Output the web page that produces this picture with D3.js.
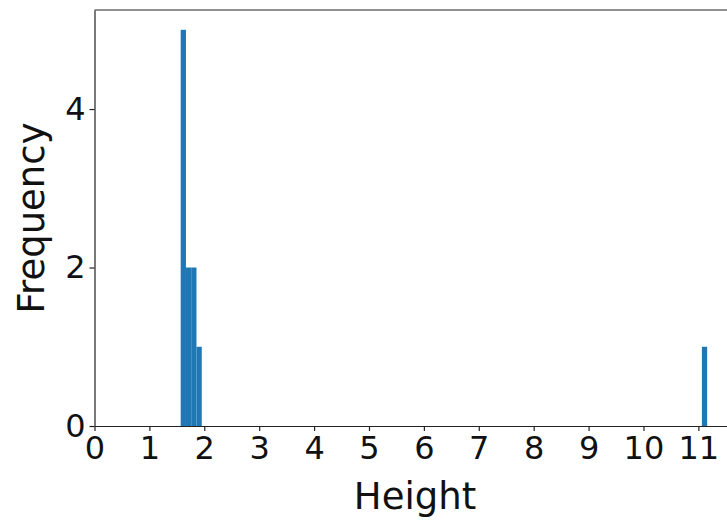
<!DOCTYPE html>
<html>
<head>
<meta charset="utf-8">
<script src="https://cdn.jsdelivr.net/npm/d3@7"></script>
<style>
  body { margin: 0; background: #fff; }
  svg { display: block; font-family: "DejaVu Sans", sans-serif; }
</style>
</head>
<body>
<div id="chart"></div>
<script>
/* DATA */
const heights = [1.57, 1.6, 1.6, 1.62, 1.65, 1.7, 1.72, 1.8, 1.82, 1.9, 11.16];
const binCount = 100;
const xTicks = [0, 1, 2, 3, 4, 5, 6, 7, 8, 9, 10, 11];
const yTicks = [0, 2, 4];
const xLabel = "Height";
const yLabel = "Frequency";

/* CONSTANTS */
const width = 727, height = 521;
const margin = { top: 10, left: 94.5, bottom: 95 };
const plotW = 639; // runs past the right edge, like the source

const svg = d3.select("#chart").append("svg")
  .attr("width", width)
  .attr("height", height);

const [lo, hi] = d3.extent(heights);
const step = (hi - lo) / binCount;
const bins = d3.bin()
  .domain([lo, hi])
  .thresholds(d3.range(1, binCount).map(i => lo + i * step))(heights);

const x = d3.scaleLinear()
  .domain([0, 11.64])
  .range([margin.left, margin.left + plotW]);

const y = d3.scaleLinear()
  .domain([0, 5.25])
  .range([height - margin.bottom, margin.top]);

// bars
svg.selectAll("rect.bar")
  .data(bins.filter(b => b.length > 0))
  .join("rect")
  .attr("class", "bar")
  .attr("x", d => x(d.x0))
  .attr("width", d => x(d.x1) - x(d.x0))
  .attr("y", d => y(d.length))
  .attr("height", d => y(0) - y(d.length))
  .attr("fill", "#1f77b4");

// axes
const xAxis = svg.append("g")
  .attr("transform", `translate(0,${y(0)})`)
  .call(d3.axisBottom(x).tickValues(xTicks).tickFormat(d3.format("d"))
    .tickSize(5).tickPadding(5).tickSizeOuter(0));

const yAxis = svg.append("g")
  .attr("transform", `translate(${x(0)},0)`)
  .call(d3.axisLeft(y).tickValues(yTicks).tickFormat(d3.format("d"))
    .tickSize(5).tickPadding(4).tickSizeOuter(0));

[xAxis, yAxis].forEach(g => {
  g.select(".domain").attr("stroke", "#222").attr("stroke-width", 1.2);
  g.selectAll(".tick line").attr("stroke", "#222").attr("stroke-width", 1.2);
  g.selectAll(".tick text")
    .attr("fill", "#111")
    .style("font-size", "32px")
    .style("font-family", "DejaVu Sans, sans-serif");
});

// top spine
svg.append("line")
  .attr("x1", x(0)).attr("x2", x(11.64))
  .attr("y1", y(5.25)).attr("y2", y(5.25))
  .attr("stroke", "#222").attr("stroke-width", 1.2);

// axis labels
svg.append("text")
  .attr("x", 415)
  .attr("y", 509)
  .attr("text-anchor", "middle")
  .attr("fill", "#111")
  .style("font-size", "37px")
  .text(xLabel);

svg.append("text")
  .attr("transform", `translate(44,${(y(0) + y(5.25)) / 2}) rotate(-90)`)
  .attr("text-anchor", "middle")
  .attr("fill", "#111")
  .style("font-size", "37px")
  .text(yLabel);
</script>
</body>
</html>
